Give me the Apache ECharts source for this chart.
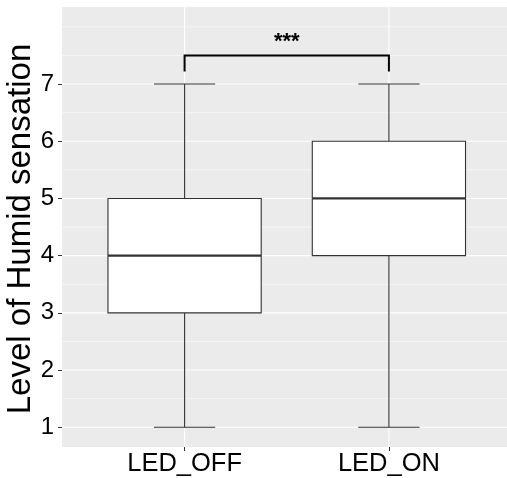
<!DOCTYPE html>
<html>
<head>
<meta charset="utf-8">
<script src="https://cdn.jsdelivr.net/npm/echarts@6/dist/echarts.min.js"></script>
<style>
html,body{margin:0;padding:0;background:#fff;}
#chart{width:507px;height:478px;}
</style>
</head>
<body>
<div id="chart"></div>
<script>
// ---- data ----
const categories = ['LED_OFF', 'LED_ON'];
const whiskerLow = [1, 1];
const q1 = [3, 4];
const median = [4, 5];
const q3 = [5, 6];
const whiskerHigh = [7, 7];
const yTicks = [1, 2, 3, 4, 5, 6, 7];
const yMinor = [1.5, 2.5, 3.5, 4.5, 5.5, 6.5, 7.5, 8];
const sigBracketY = 7.5;
const sigTipY = 7.22;
const sigLabelY = 7.74;
const sigLabel = '***';
const yTitle = 'Level of Humid sensation';

// ---- styles ----
const FONT = 'Liberation Sans, Arial, sans-serif';
const LINE = '#333333';
const BOX_W = 0.75;
const CAP_W = 0.3;

const xPos = categories.map((c, i) => i + 1);
const boxData = categories.map((c, i) => [xPos[i], whiskerLow[i], q1[i], median[i], q3[i], whiskerHigh[i]]);

const chart = echarts.init(document.getElementById('chart'), null, {renderer: 'canvas'});

function hGrid(params, api, width) {
  const cs = params.coordSys;
  const y = api.coord([0, api.value(0)])[1];
  return {
    type: 'line',
    shape: {x1: cs.x, y1: y, x2: cs.x + cs.width, y2: y},
    style: {stroke: '#ffffff', lineWidth: width},
    silent: true
  };
}

const option = {
  animation: false,
  backgroundColor: '#ffffff',
  grid: {left: 62, right: 0, top: 7, bottom: 31, containLabel: false, outerBoundsMode: 'none',
    show: true, backgroundColor: '#EBEBEB', borderWidth: 0},
  graphic: [{
    type: 'text', x: 21, y: 229, rotation: Math.PI / 2, silent: true,
    style: {text: yTitle, fill: '#000', font: '33px ' + FONT, align: 'center', verticalAlign: 'middle'}
  }],
  xAxis: {
    type: 'value', min: 0.4, max: 2.578,
    axisLine: {show: false},
    splitLine: {show: false},
    axisTick: {show: true, customValues: xPos, length: 4, lineStyle: {color: LINE, width: 1}},
    axisLabel: {
      customValues: xPos, margin: 4,
      formatter: v => categories[Math.round(v) - 1] || '',
      color: '#000', fontSize: 25.5, fontFamily: FONT
    }
  },
  yAxis: {
    type: 'value', min: 0.655, max: 8.347,
    axisLine: {show: false},
    splitLine: {show: false},
    axisTick: {show: true, customValues: yTicks, length: 4, lineStyle: {color: LINE, width: 1}},
    axisLabel: {customValues: yTicks, margin: 8, color: '#000', fontSize: 24, fontFamily: FONT}
  },
  series: [
    {
      type: 'custom', z: 1, silent: true,
      data: yMinor.map(v => [v]),
      encode: {y: 0},
      renderItem: (p, api) => hGrid(p, api, 0.55)
    },
    {
      type: 'custom', z: 1, silent: true,
      data: yTicks.map(v => [v]),
      encode: {y: 0},
      renderItem: (p, api) => hGrid(p, api, 1.1)
    },
    {
      type: 'custom', z: 1, silent: true,
      data: xPos.map(v => [v]),
      encode: {x: 0},
      renderItem: (params, api) => {
        const cs = params.coordSys;
        const x = api.coord([api.value(0), 1])[0];
        return {type: 'line', shape: {x1: x, y1: cs.y, x2: x, y2: cs.y + cs.height},
          style: {stroke: '#ffffff', lineWidth: 1.1}, silent: true};
      }
    },
    {
      type: 'custom', z: 2, silent: true,
      data: boxData,
      encode: {x: 0, y: [1, 2, 3, 4, 5]},
      renderItem: (params, api) => {
        const xv = api.value(0);
        const pLow = api.coord([xv, api.value(1)]);
        const pQ1 = api.coord([xv, api.value(2)]);
        const pMed = api.coord([xv, api.value(3)]);
        const pQ3 = api.coord([xv, api.value(4)]);
        const pHigh = api.coord([xv, api.value(5)]);
        const hb = api.size([BOX_W, 0])[0] / 2;
        const hc = api.size([CAP_W, 0])[0] / 2;
        const x = pLow[0];
        const ls = {stroke: LINE, lineWidth: 1.1};
        return {
          type: 'group',
          children: [
            {type: 'line', shape: {x1: x, y1: pLow[1], x2: x, y2: pQ1[1]}, style: ls},
            {type: 'line', shape: {x1: x, y1: pQ3[1], x2: x, y2: pHigh[1]}, style: ls},
            {type: 'line', shape: {x1: x - hc, y1: pLow[1], x2: x + hc, y2: pLow[1]}, style: ls},
            {type: 'line', shape: {x1: x - hc, y1: pHigh[1], x2: x + hc, y2: pHigh[1]}, style: ls},
            {type: 'rect', shape: {x: x - hb, y: pQ3[1], width: 2 * hb, height: pQ1[1] - pQ3[1]},
              style: {fill: '#ffffff', stroke: LINE, lineWidth: 1.1}},
            {type: 'line', shape: {x1: x - hb, y1: pMed[1], x2: x + hb, y2: pMed[1]},
              style: {stroke: LINE, lineWidth: 2.2}}
          ]
        };
      }
    },
    {
      type: 'custom', z: 3, silent: true,
      data: [[xPos[0], xPos[1], sigBracketY, sigTipY, sigLabelY]],
      encode: {x: [0, 1], y: [2, 3, 4]},
      renderItem: (params, api) => {
        const a = api.coord([api.value(0), api.value(2)]);
        const b = api.coord([api.value(1), api.value(2)]);
        const tip = api.coord([api.value(0), api.value(3)])[1];
        const lab = api.coord([(api.value(0) + api.value(1)) / 2, api.value(4)]);
        return {
          type: 'group',
          children: [
            {type: 'polyline', shape: {points: [[a[0], tip], a, b, [b[0], tip]]},
              style: {stroke: '#000', lineWidth: 2, fill: null}},
            {type: 'text', x: lab[0], y: lab[1],
              style: {text: sigLabel, fill: '#000', font: 'bold 22px ' + FONT, align: 'center', verticalAlign: 'middle'}}
          ]
        };
      }
    }
  ]
};
chart.setOption(option);
</script>
</body>
</html>
